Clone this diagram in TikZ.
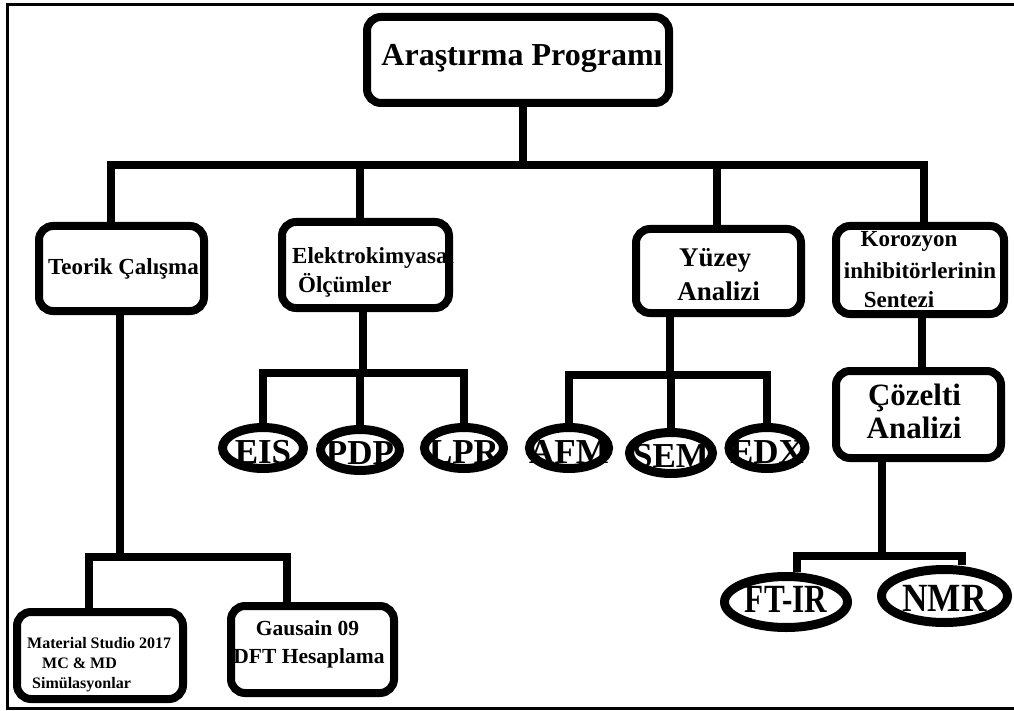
\documentclass[tikz,border=0pt]{standalone}
\usepackage{fontspec}
\setmainfont{Liberation Serif}
\usetikzlibrary{shapes.geometric}
\newcommand{\fsz}[1]{\fontsize{#1}{#1}\selectfont}
\newcommand{\ovaltext}[2]{\makebox[0pt]{\raisebox{-#1pt}[0pt][0pt]{#2}}}
\tikzset{
  box/.style={draw, line width=8pt, rounded corners=14pt, inner sep=0pt},
  oval/.style={draw, ellipse, line width=9pt, inner sep=0pt, font=\bfseries\fsz{35}},
  bigoval/.style={draw, ellipse, line width=9pt, inner sep=0pt, font=\bfseries\fsz{40}},
  txt/.style={anchor=base, inner sep=0pt, font=\bfseries},
  txtl/.style={anchor=base west, inner sep=0pt, font=\bfseries},
  conn/.style={line width=8pt, line join=miter},
  frame/.style={line width=3pt}
}
\begin{document}
\begin{tikzpicture}[x=1pt,y=-1pt]
\useasboundingbox (0,0) rectangle (1014,711);
\fill[white] (0,0) rectangle (1014,711);
\draw[frame] (1014,5) -- (7,5) -- (7,708) -- (1014,708);

% boxes
\node[box, minimum width=302pt, minimum height=86pt] (top) at (518,60) {};
\node[box, minimum width=165pt, minimum height=85pt] (teorik) at (121.5,268.5) {};
\node[box, minimum width=167pt, minimum height=86pt] (elektro) at (365.5,265) {};
\node[box, minimum width=165pt, minimum height=84pt] (yuzey) at (718.5,271) {};
\node[box, minimum width=168pt, minimum height=88pt] (korozyon) at (920,270) {};
\node[box, minimum width=165pt, minimum height=87pt] (cozelti) at (918.5,414.5) {};
\node[box, minimum width=166pt, minimum height=87pt] (material) at (100,655.5) {};
\node[box, minimum width=163pt, minimum height=87pt] (gausain) at (312.5,649.5) {};

% texts
\node[txt, font=\bfseries\fsz{32}] (top-t) at (522,66) {Araştırma Programı};
\node[txt, font=\bfseries\fsz{23}] (teorik-t) at (123.5,275) {Teorik Çalışma};
\node[txtl, font=\bfseries\fsz{23}] (elektro-t1) at (292,263) {Elektrokimyasal};
\node[txtl, font=\bfseries\fsz{23}] (elektro-t2) at (298,292) {Ölçümler};
\node[txt, font=\bfseries\fsz{27}] (yuzey-t1) at (715,267) {Yüzey};
\node[txt, font=\bfseries\fsz{27}] (yuzey-t2) at (718.5,300) {Analizi};
\node[txt, font=\bfseries\fsz{23}] (korozyon-t1) at (909,247) {Korozyon};
\node[txt, font=\bfseries\fsz{23}] (korozyon-t2) at (920,278) {inhibitörlerinin};
\node[txt, font=\bfseries\fsz{23}] (korozyon-t3) at (899,307) {Sentezi};
\node[txt, font=\bfseries\fsz{31}] (cozelti-t1) at (914.5,405) {Çözelti};
\node[txt, font=\bfseries\fsz{31}] (cozelti-t2) at (914,438) {Analizi};
\node[txtl, font=\bfseries\fsz{16}] (material-t1) at (27,648) {Material Studio 2017};
\node[txtl, font=\bfseries\fsz{16}] (material-t2) at (42,668) {MC \& MD};
\node[txtl, font=\bfseries\fsz{16}] (material-t3) at (32,688) {Simülasyonlar};
\node[txt, font=\bfseries\fsz{21.5}] (gausain-t1) at (307.5,635) {Gausain 09};
\node[txt, font=\bfseries\fsz{21.5}] (gausain-t2) at (309,663) {DFT Hesaplama};

% ovals
\node[oval, minimum width=81pt, minimum height=41pt] (eis) at (263,448) {\ovaltext{15}{EIS}};
\node[oval, minimum width=79pt, minimum height=41pt] (pdp) at (360,450) {\ovaltext{14}{PDP}};
\node[oval, minimum width=79pt, minimum height=41pt] (lpr) at (464,448) {\ovaltext{15}{LPR}};
\node[oval, minimum width=79pt, minimum height=41pt] (afm) at (569,448) {\ovaltext{15}{AFM}};
\node[oval, minimum width=83pt, minimum height=41pt] (sem) at (671,453) {\ovaltext{14}{SEM}};
\node[oval, minimum width=76pt, minimum height=41pt] (edx) at (767,448) {\ovaltext{15}{EDX}};
\node[bigoval, minimum width=123pt, minimum height=51pt] (ftir) at (786,602) {\ovaltext{10}{\scalebox{0.78}[1]{FT-IR}}};
\node[bigoval, minimum width=126pt, minimum height=53pt] (nmr) at (944.5,596) {\ovaltext{15}{\scalebox{0.88}[1]{NMR}}};

% junction coordinates
\coordinate (bM) at (523,165);
\coordinate (bT) at (111,165);
\coordinate (bE) at (360,165);
\coordinate (bY) at (717,165);
\coordinate (bK) at (924,165);
\coordinate (eb) at (363,373);
\coordinate (yb) at (670,375);
\coordinate (cz) at (922,0);
\coordinate (cb) at (882,556);
\coordinate (cl) at (797,556);
\coordinate (cr) at (962,556);
\coordinate (tb) at (120,557);
\coordinate (tl) at (89,557);
\coordinate (tr) at (287,557);

% connectors
\draw[conn] (top.south -| bM) -- (bM);
\draw[conn] (teorik.north -| bT) -- (bT) -- (bK) -- (korozyon.north -| bK);
\draw[conn] (bE) -- (elektro.north -| bE);
\draw[conn] (bY) -- (yuzey.north -| bY);

\draw[conn] (elektro.south -| eb) -- (eb);
\draw[conn] (eis.north) |- (eb) -| (lpr.north);
\draw[conn] (pdp.north) -- (pdp.north |- eb);

\draw[conn] (yuzey.south -| yb) -- (yb);
\draw[conn] (afm.north) |- (yb) -| (edx.north);
\draw[conn] (sem.north) -- (sem.north |- yb);

\draw[conn] (korozyon.south -| cz) -- (cozelti.north -| cz);
\draw[conn] (cozelti.south -| cb) -- (cb);
\draw[conn] (ftir.north -| cl) -- (cl) -- (cr) -- (nmr.north -| cr);

\draw[conn] (teorik.south -| tb) -- (tb);
\draw[conn] (material.north -| tl) -- (tl) -- (tr) -- (gausain.north -| tr);
\end{tikzpicture}
\end{document}
